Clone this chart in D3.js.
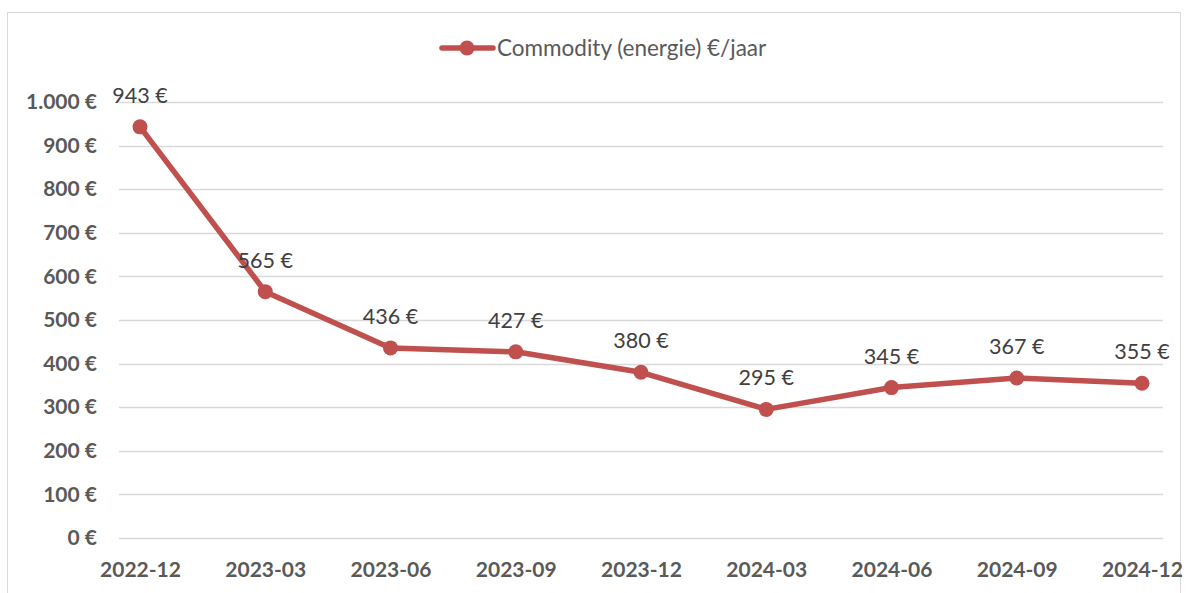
<!DOCTYPE html>
<html>
<head>
<meta charset="utf-8">
<script src="https://cdn.jsdelivr.net/npm/d3@7"></script>
<style>
  body { margin: 0; background: #fff; }
  svg { display: block; }
</style>
</head>
<body>
<div id="chart"></div>
<script>
const categories = ['2022-12', '2023-03', '2023-06', '2023-09', '2023-12', '2024-03', '2024-06', '2024-09', '2024-12'];
const values = [943, 565, 436, 427, 380, 295, 345, 367, 355];
const yTicks = [0, 100, 200, 300, 400, 500, 600, 700, 800, 900, 1000];
const seriesName = 'Commodity (energie) €/jaar';

const width = 1187;
const height = 593;
const color = '#C0504D';
const font = 'Lato, "Open Sans", sans-serif';

const svg = d3.select('#chart')
  .append('svg')
  .attr('width', width)
  .attr('height', height);

// chart border
svg.append('rect')
  .attr('x', 7.5).attr('y', 12.5)
  .attr('width', 1173).attr('height', 600)
  .attr('fill', '#fff')
  .attr('stroke', '#d9d9d9')
  .attr('stroke-width', 1);

const x = d3.scalePoint().domain(categories).range([140, 1142]);
const y = d3.scaleLinear().domain([0, 1000]).range([538, 102]);

// gridlines
svg.append('g')
  .selectAll('line')
  .data(yTicks)
  .enter()
  .append('line')
  .attr('x1', 119).attr('x2', 1163)
  .attr('y1', d => Math.round(y(d)) + 0.5)
  .attr('y2', d => Math.round(y(d)) + 0.5)
  .attr('stroke', '#d9d9d9')
  .attr('stroke-width', 1.5);

// y axis labels
const fmt = d3.formatLocale({ decimal: ',', thousands: '.', grouping: [3], currency: ['', ' €'] }).format(',');
const yAxis = d3.axisLeft(y).tickValues(yTicks).tickSize(0).tickPadding(0).tickFormat(d => fmt(d) + ' €');
svg.append('g')
  .attr('transform', 'translate(97,0)')
  .call(yAxis)
  .call(g => g.select('.domain').remove())
  .selectAll('text')
  .attr('font-family', font)
  .attr('font-weight', 'bold')
  .attr('font-size', 21)
  .attr('fill', '#595959');

// x axis labels
const xAxis = d3.axisBottom(x).tickSize(0).tickPadding(0);
svg.append('g')
  .attr('transform', 'translate(0,562)')
  .call(xAxis)
  .call(g => g.select('.domain').remove())
  .selectAll('text')
  .attr('font-family', font)
  .attr('font-weight', 'bold')
  .attr('font-size', 21)
  .attr('fill', '#595959');

const data = categories.map((c, i) => ({ cat: c, value: values[i] }));

// line
svg.append('path')
  .datum(data)
  .attr('fill', 'none')
  .attr('stroke', color)
  .attr('stroke-width', 5.5)
  .attr('stroke-linejoin', 'round')
  .attr('stroke-linecap', 'round')
  .attr('d', d3.line().x(d => x(d.cat)).y(d => y(d.value)));

// markers
svg.append('g')
  .selectAll('circle')
  .data(data)
  .enter()
  .append('circle')
  .attr('cx', d => x(d.cat))
  .attr('cy', d => y(d.value))
  .attr('r', 7.5)
  .attr('fill', color);

// data labels
svg.append('g')
  .selectAll('text')
  .data(data)
  .enter()
  .append('text')
  .attr('x', d => x(d.cat))
  .attr('y', d => y(d.value) - 24)
  .attr('text-anchor', 'middle')
  .attr('font-family', font)
  .attr('font-size', 21.5)
  .attr('fill', '#404040')
  .text(d => d.value + ' €');

// legend
const legend = svg.append('g').attr('transform', 'translate(440,48)');
legend.append('line')
  .attr('x1', 2).attr('x2', 53)
  .attr('stroke', color)
  .attr('stroke-width', 5.5)
  .attr('stroke-linecap', 'round');
legend.append('circle')
  .attr('cx', 27).attr('r', 7.5)
  .attr('fill', color);
legend.append('text')
  .attr('x', 57)
  .attr('dy', '0.35em')
  .attr('font-family', font)
  .attr('font-size', 22.5)
  .attr('fill', '#595959')
  .text(seriesName);
</script>
</body>
</html>
